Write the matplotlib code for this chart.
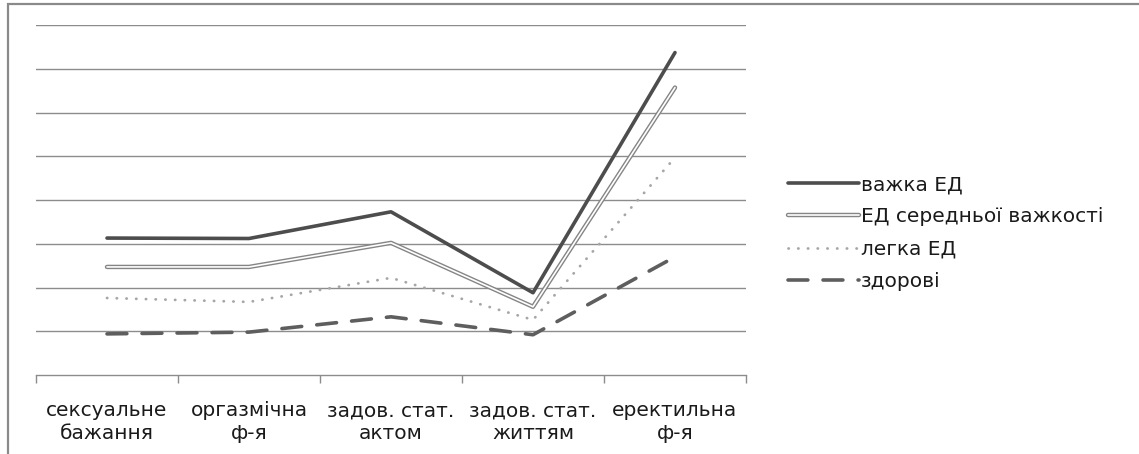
import matplotlib
matplotlib.use("Agg")
import matplotlib.pyplot as plt
from matplotlib.patches import Rectangle
from matplotlib.legend_handler import HandlerTuple

plt.rcParams['font.family'] = ['DejaVu Sans']

categories = ["сексуальне\nбажання", "оргазмічна\nф-я", "задов. стат.\nактом",
              "задов. стат.\nжиттям", "еректильна\nф-я"]

severe = [3.13, 3.12, 3.73, 1.88, 7.37]
moderate = [2.47, 2.47, 3.02, 1.56, 6.57]
mild = [1.76, 1.67, 2.22, 1.26, 4.97]
healthy = [0.94, 0.98, 1.33, 0.92, 2.70]

labels = ["важка ЕД", "ЕД середньої важкості", "легка ЕД", "здорові"]

fig = plt.figure(figsize=(11.39, 4.54), dpi=100)
ax = fig.add_axes([36 / 1139, 1 - 375 / 454, (746 - 36) / 1139, 350 / 454])

x = list(range(len(categories)))
grid_c = "#8c8c8c"

# solid dark line
l1, = ax.plot(x, severe, color="#4d4d4d", lw=2.6, solid_capstyle="round",
              solid_joinstyle="round", zorder=5)
# double line: grey outline with white core
l2a, = ax.plot(x, moderate, color="#858585", lw=3.2, solid_capstyle="round",
               solid_joinstyle="round", zorder=4)
l2b, = ax.plot(x, moderate, color="white", lw=1.2, solid_capstyle="round",
               solid_joinstyle="round", zorder=4)
l3, = ax.plot(x, mild, color="#a6a6a6", lw=2.0, linestyle=(0, (0.1, 3.4)),
              dash_capstyle="round", zorder=3)
l4, = ax.plot(x, healthy, color="#5e5e5e", lw=2.6, linestyle=(0, (5.5, 4.2)),
              dash_capstyle="round", zorder=3)

ax.set_xlim(-0.5, len(categories) - 0.5)
ax.set_ylim(0, 8)
ax.set_yticks(range(1, 9))
ax.yaxis.grid(True, color=grid_c, lw=1.0)
ax.set_axisbelow(True)
ax.tick_params(axis="y", left=False, labelleft=False)

ax.set_xticks(x)
ax.set_xticklabels(categories, fontsize=14.5, color="#1a1a1a", linespacing=1.25)
ax.set_xticks([i - 0.5 for i in range(len(categories) + 1)], minor=True)
ax.tick_params(axis="x", which="major", length=0, pad=19)
ax.tick_params(axis="x", which="minor", length=6, width=1, color=grid_c, direction="out")

for s in ["top", "right", "left"]:
    ax.spines[s].set_visible(False)
ax.spines["bottom"].set_color(grid_c)
ax.spines["bottom"].set_linewidth(1.0)

leg = fig.legend([l1, (l2a, l2b), l3, l4], labels,
                 handler_map={tuple: HandlerTuple(ndivide=1, pad=0)},
                 loc="upper left", bbox_to_anchor=(770 / 1139, 1 - 157 / 454),
                 frameon=False, fontsize=14.5, handlelength=3.5, handletextpad=0.12,
                 labelspacing=0.66, labelcolor="#1a1a1a")

# outer frame around the chart
fig.add_artist(Rectangle((7.5 / 1139, -0.1), 1.2, 1 + 0.1 - 4.5 / 454,
                         transform=fig.transFigure, fill=False,
                         edgecolor="#8a8a8a", lw=1.6))

fig.savefig("out.png", dpi=100)
